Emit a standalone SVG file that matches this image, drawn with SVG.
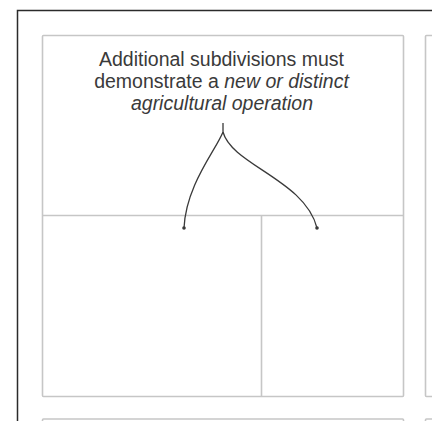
<svg xmlns="http://www.w3.org/2000/svg" width="432" height="421" viewBox="0 0 432 421">
  <style>
    .frame { fill: none; stroke: #2b2b2b; stroke-width: 1.5; }
    .panel { fill: none; stroke: #c6c6c6; stroke-width: 1.6; }
    .label { font-family: "Liberation Sans", Arial, sans-serif; font-size: 19.5px; fill: #3a3a3a; text-anchor: middle; }
    .em { font-style: italic; }
    .link { fill: none; stroke: #3a3a3a; stroke-width: 1.3; }
    .tip { fill: #3a3a3a; }
  </style>
  <rect width="432" height="421" fill="#ffffff"/>

  <!-- outer page frame -->
  <path class="frame" d="M17.5,421 V10.5 H432"/>

  <!-- main panel with its two lower cells -->
  <g id="panel-main">
    <rect class="panel" x="42.5" y="35.5" width="361" height="361" rx="1"/>
    <line class="panel" x1="42.5" y1="215.5" x2="403.5" y2="215.5"/>
    <line class="panel" x1="261.5" y1="215.5" x2="261.5" y2="396.5"/>
  </g>

  <g id="caption">
    <text class="label" x="221.5" y="66">Additional subdivisions must</text>
    <text class="label" x="221.5" y="88">demonstrate a <tspan class="em">new or distinct</tspan></text>
    <text class="label em" x="222" y="110">agricultural operation</text>
  </g>

  <!-- neighbouring panels, cut by the page edge -->
  <g id="panel-right">
    <rect class="panel" x="425.5" y="35.5" width="20" height="361" rx="1"/>
  </g>
  <g id="panel-below">
    <rect class="panel" x="42.5" y="419" width="361" height="20" rx="1"/>
  </g>
  <g id="panel-below-right">
    <rect class="panel" x="425.5" y="419" width="20" height="20" rx="1"/>
  </g>

  <!-- branching connector into both cells -->
  <g id="connectors">
    <path class="link" d="M223,123 V132 C216,150 186,185 184,228"/>
    <path class="link" d="M223,132 C232,165 305,180 317,228"/>
    <circle class="tip" cx="184" cy="228" r="1.8"/>
    <circle class="tip" cx="317" cy="228" r="1.8"/>
  </g>
</svg>
